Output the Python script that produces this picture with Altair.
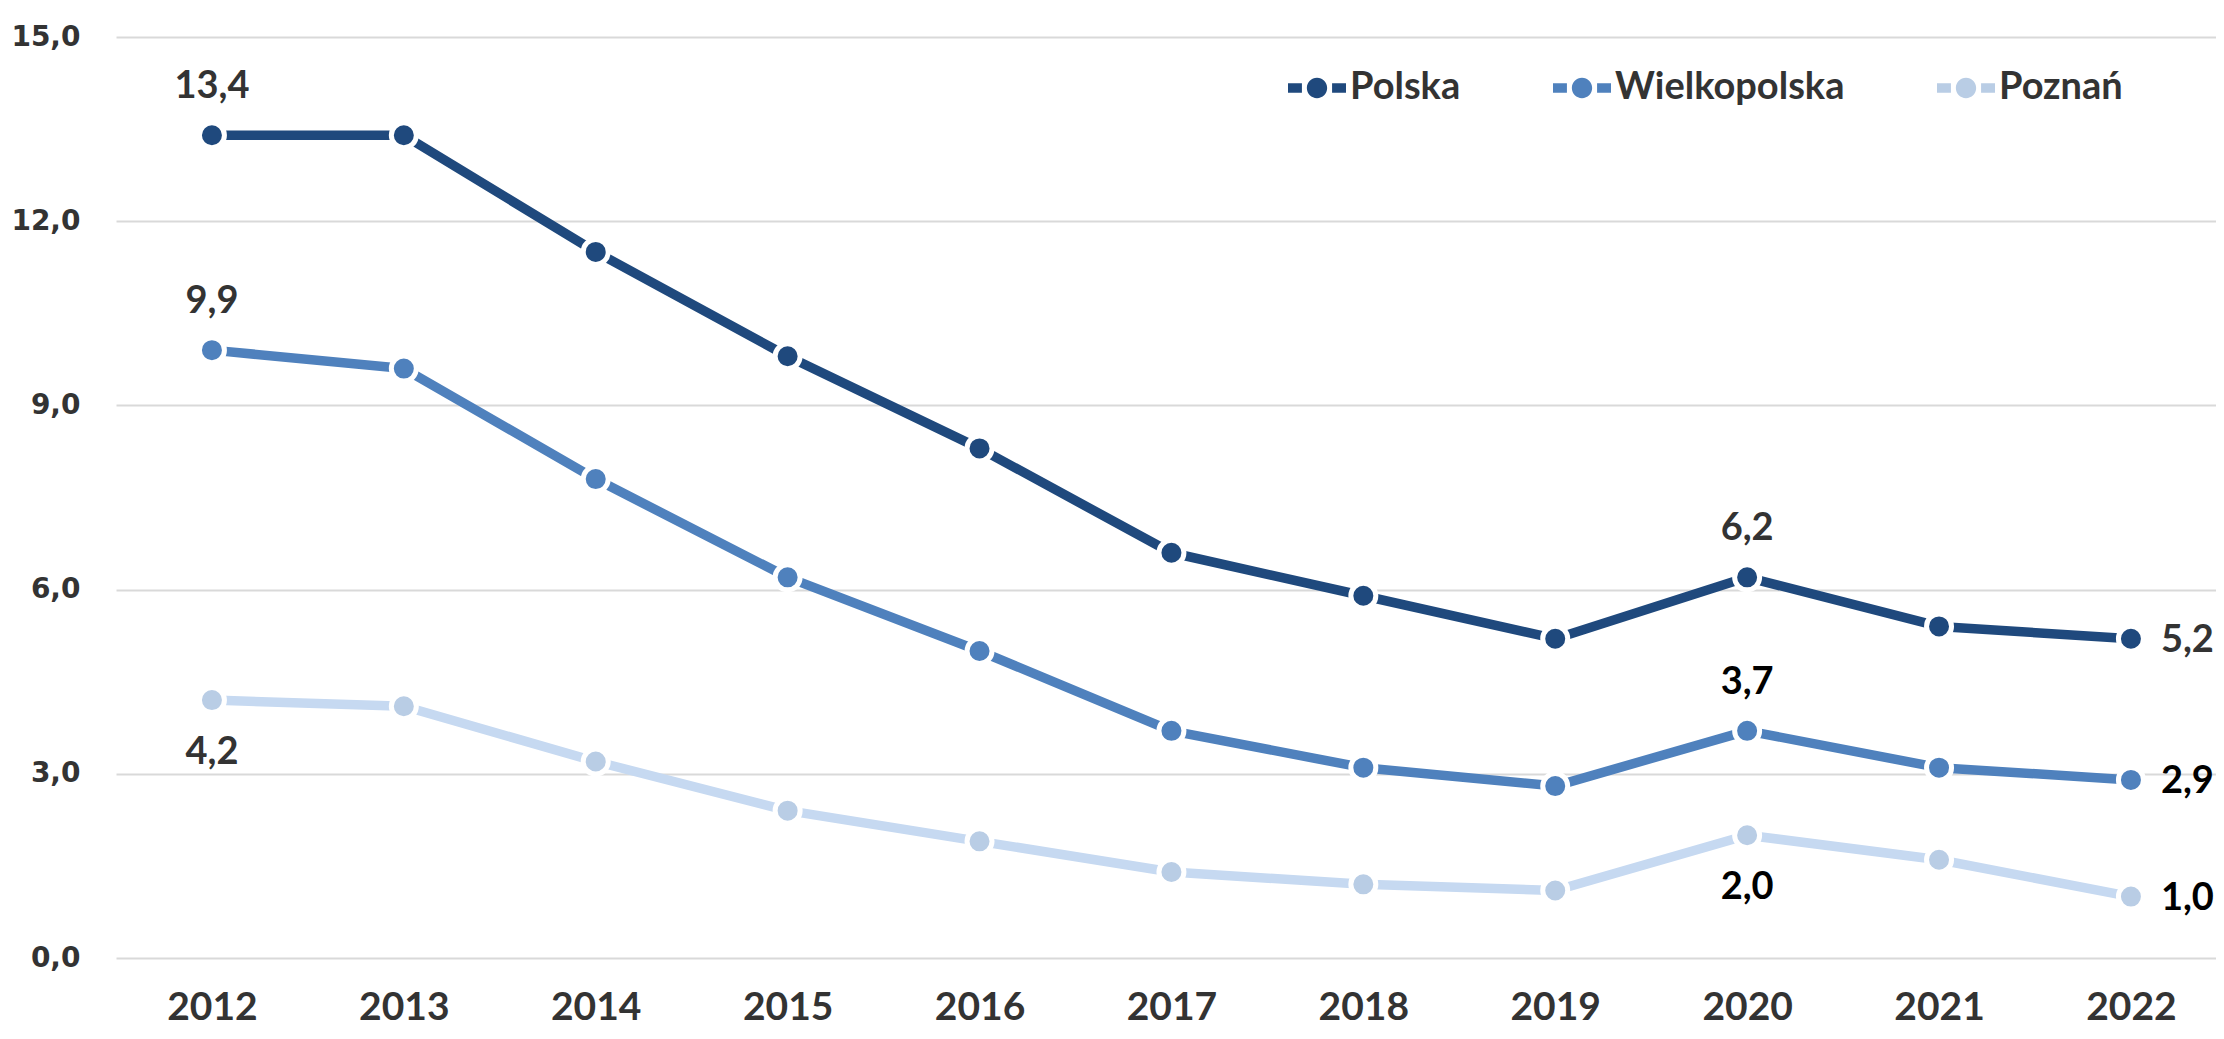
import altair as alt
import pandas as pd

years = [2012, 2013, 2014, 2015, 2016, 2017, 2018, 2019, 2020, 2021, 2022]
series_names = ["Polska", "Wielkopolska", "Poznań"]
polska = [13.4, 13.4, 11.5, 9.8, 8.3, 6.6, 5.9, 5.2, 6.2, 5.4, 5.2]
wielkopolska = [9.9, 9.6, 7.8, 6.2, 5.0, 3.7, 3.1, 2.8, 3.7, 3.1, 2.9]
poznan = [4.2, 4.1, 3.2, 2.4, 1.9, 1.4, 1.2, 1.1, 2.0, 1.6, 1.0]
y_ticks = [0, 3, 6, 9, 12, 15]

# which points carry a value label
labelled_above = [("Polska", 2012), ("Polska", 2020), ("Wielkopolska", 2012), ("Wielkopolska", 2020)]
labelled_below = [("Poznań", 2012), ("Poznań", 2020)]
labelled_right = [("Polska", 2022), ("Wielkopolska", 2022), ("Poznań", 2022)]

line_colors = ["#1F497D", "#4F81BD", "#C6D9F1"]
point_colors = ["#1F497D", "#4F81BD", "#B9CDE5"]

rows = []
for name, vals in zip(series_names, [polska, wielkopolska, poznan]):
    for yr, v in zip(years, vals):
        key = (name, yr)
        place = ""
        if key in labelled_above:
            place = "above"
        elif key in labelled_below:
            place = "below"
        elif key in labelled_right:
            place = "right"
        tcol = "#333333" if (name == "Polska" or yr == 2012) else "#000000"
        rows.append({
            "year": yr,
            "series": name,
            "value": v,
            "txt": f"{v:.1f}".replace(".", ","),
            "place": place,
            "tcol": tcol,
        })
df = pd.DataFrame(rows)

FONT = "Lato"

x_enc = alt.X(
    "year:O",
    scale=alt.Scale(type="point", padding=0.4716, align=0.53),
    axis=alt.Axis(
        title=None, labelAngle=0, labelFont=FONT, labelFontSize=39,
        labelFontWeight="bold", labelColor="#333333", labelPadding=30,
        domain=False, ticks=False, grid=False,
    ),
)
y_enc = alt.Y(
    "value:Q",
    scale=alt.Scale(domain=[0, 15], nice=False, zero=True),
    axis=alt.Axis(
        values=y_ticks, title=None,
        labelExpr="replace(format(datum.value, '.1f'), '.', ',')",
        labelFont="DejaVu Sans", labelFontSize=28, labelFontWeight="bold",
        labelColor="#333333", labelPadding=36, domain=False, ticks=False,
        gridColor="#D9D9D9", gridWidth=2,
    ),
)

base = alt.Chart(df)

lines = base.mark_line(strokeWidth=9.5, strokeCap="butt", strokeJoin="round").encode(
    x=x_enc,
    y=y_enc,
    color=alt.Color("series:N", scale=alt.Scale(domain=series_names, range=line_colors), legend=None),
    detail="series:N",
)

legend_path = (
    "M-1,-0.16 L-0.52,-0.16 L-0.52,0.16 L-1,0.16 Z "
    "M0.35,0 A0.35,0.35 0 1,1 -0.35,0 A0.35,0.35 0 1,1 0.35,0 Z "
    "M0.52,-0.16 L1,-0.16 L1,0.16 L0.52,0.16 Z"
)

points = base.mark_circle(size=625, opacity=1, stroke="white", strokeWidth=5).encode(
    x=x_enc,
    y=y_enc,
    color=alt.Color(
        "series:N",
        scale=alt.Scale(domain=series_names, range=point_colors),
        legend=alt.Legend(
            title=None, orient="none", legendX=1172, legendY=22,
            direction="horizontal", symbolType=legend_path, symbolSize=3364,
            symbolStrokeWidth=0, symbolOpacity=1,
            labelFont=FONT, labelFontSize=38, labelFontWeight="bold",
            labelColor="#333333", labelOffset=4, labelLimit=0,
            columnPadding=92, padding=0,
        ),
    ),
)

text_common = dict(font=FONT, fontSize=38, fontWeight="bold", baseline="middle")

above = base.mark_text(align="center", dy=-48, **text_common).encode(
    x=x_enc, y=y_enc, text="txt:N", color=alt.Color("tcol:N", scale=None)
).transform_filter(alt.datum.place == "above")

below = base.mark_text(align="center", dy=53, **text_common).encode(
    x=x_enc, y=y_enc, text="txt:N", color=alt.Color("tcol:N", scale=None)
).transform_filter(alt.datum.place == "below")

right = base.mark_text(align="left", dx=30, dy=2, **text_common).encode(
    x=x_enc, y=y_enc, text="txt:N", color=alt.Color("tcol:N", scale=None)
).transform_filter(alt.datum.place == "right")

chart = (
    alt.layer(lines, points, above, below, right)
    .resolve_scale(color="independent")
    .properties(
        width=2100,
        height=921,
        padding={"left": 108, "top": 29, "right": 0, "bottom": 73},
        autosize=alt.AutoSizeParams(type="none"),
        background="white",
    )
    .configure_view(stroke=None)
)

chart.save("out.html", embed_options={"renderer": "svg", "actions": False})
